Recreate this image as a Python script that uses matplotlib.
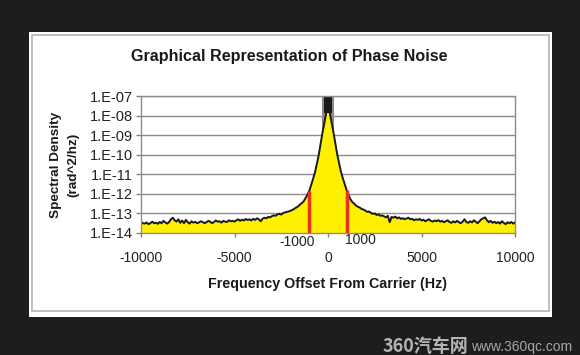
import numpy as np
import matplotlib
matplotlib.use("Agg")
import matplotlib.pyplot as plt
from matplotlib.patches import Rectangle

plt.rcParams['font.family'] = ['Liberation Sans', 'Noto Sans CJK SC', 'DejaVu Sans']

# frequency offset grid (Hz), 100 Hz steps
freq = np.arange(-10000, 10001, 100)

# log10 of spectral density
left_exp = [
    -13.45, -13.50, -13.52, -13.46, -13.55, -13.50, -13.42, -13.50, -13.47, -13.53,
    -13.44, -13.50, -13.38, -13.46, -13.52, -13.44, -13.30, -13.22, -13.35, -13.42,
    -13.30, -13.48, -13.36, -13.50, -13.33, -13.45, -13.52, -13.40, -13.47, -13.43,
    -13.50, -13.46, -13.40, -13.44, -13.50, -13.45, -13.38, -13.42, -13.50, -13.44,
    -13.36, -13.42, -13.40, -13.47, -13.38, -13.42, -13.44, -13.35, -13.40, -13.38,
    -13.42, -13.35, -13.30, -13.38, -13.32, -13.36, -13.28, -13.34, -13.30, -13.36,
    -13.28, -13.33, -13.25, -13.30, -13.40, -13.27, -13.22, -13.25, -13.18, -13.20,
    -13.14, -13.10, -13.12, -13.05, -13.02, -13.06, -12.98, -12.95, -12.92, -12.90,
    -12.86, -12.82, -12.76, -12.70, -12.64, -12.55, -12.47, -12.38, -12.22, -12.05,
    -11.85, -11.55, -11.24, -10.92, -10.48, -10.04, -9.47, -8.90, -8.40, -7.90,
]
center_exp = [-6.0]
right_exp = [
    -7.90, -8.40, -8.90, -9.45, -10.02, -10.46, -10.90, -11.22, -11.52, -11.82,
    -12.05, -12.28, -12.42, -12.50, -12.60, -12.66, -12.70, -12.78, -12.80, -12.86,
    -12.92, -12.90, -12.98, -13.02, -13.00, -13.08, -13.05, -13.12, -13.10, -13.15,
    -13.20, -13.12, -13.45, -13.18, -13.22, -13.16, -13.25, -13.20, -13.28, -13.24,
    -13.30, -13.26, -13.22, -13.30, -13.27, -13.35, -13.30, -13.33, -13.28, -13.36,
    -13.32, -13.40, -13.35, -13.30, -13.38, -13.42, -13.36, -13.40, -13.34, -13.42,
    -13.38, -13.45, -13.40, -13.35, -13.44, -13.48, -13.40, -13.46, -13.38, -13.45,
    -13.50, -13.42, -13.30, -13.44, -13.48, -13.40, -13.46, -13.35, -13.42, -13.50,
    -13.40, -13.30, -13.25, -13.20, -13.35, -13.45, -13.38, -13.48, -13.42, -13.50,
    -13.44, -13.52, -13.40, -13.48, -13.55, -13.45, -13.50, -13.44, -13.52, -13.46,
]
psd = 10.0 ** np.array(left_exp + center_exp + right_exp)

# carrier spike: dark core plus grey halo
carrier_half_width = 230
carrier_bottom = 1.3e-8
halo_half_width = 340
halo_bottom = 1.2e-9

marker_freqs = [-1000, 1000]
y_ticks = [1e-14, 1e-13, 1e-12, 1e-11, 1e-10, 1e-9, 1e-8, 1e-7]
y_labels = ['1.E-14', '1.E-13', '1.E-12', '1.E-11', '1.E-10', '1.E-09', '1.E-08', '1.E-07']
x_ticks = [-10000, -5000, 0, 5000, 10000]
x_labels = ['-10000', '-5000', '0', '5000', '10000']

W, H = 580, 355
fig = plt.figure(figsize=(W / 100, H / 100), dpi=100, facecolor='#1e1c1e')

# white chart panel with grey inner border
fig.patches.append(Rectangle((29 / W, 1 - 317 / H), 523 / W, 285 / H,
                             transform=fig.transFigure, facecolor='white',
                             edgecolor='none', zorder=-3))
fig.patches.append(Rectangle((31.5 / W, 1 - 311 / H), 517.5 / W, 276 / H,
                             transform=fig.transFigure, facecolor='none',
                             edgecolor='#b4b4b4', lw=1.2, zorder=-2))

ax = fig.add_axes([141 / W, 1 - 233 / H, 374 / W, 137 / H])
ax.set_facecolor('white')
ax.set_yscale('log')
ax.set_xlim(-10000, 10000)
ax.set_ylim(1e-14, 1e-7)

ax.set_axisbelow(True)
ax.yaxis.grid(True, color='#8c8c8c', lw=1)
ax.fill_between([-halo_half_width, halo_half_width], halo_bottom, 1e-6,
                color='#8a8a8a', lw=0, zorder=0.9)
ax.fill_between(freq, 1e-14, psd, color='#fff000', lw=0, zorder=1)
ax.plot(freq, psd, color='#1a1a1a', lw=1.4, zorder=2)
ax.fill_between([-carrier_half_width, carrier_half_width], carrier_bottom, 1e-6,
                color='#1a1a1a', lw=0, zorder=2)

marker_vals = [psd[list(freq).index(f)] for f in marker_freqs]
ax.vlines(marker_freqs, 1e-14, marker_vals, color='#e8321e', lw=2.5, zorder=3)

ax.set_yticks(y_ticks)
ax.set_yticklabels(y_labels)
ax.yaxis.set_minor_locator(matplotlib.ticker.NullLocator())
ax.set_xticks(x_ticks)
ax.set_xticklabels(x_labels)
ax.tick_params(axis='y', length=3.6, width=1, color='#808080', pad=2, labelsize=10.5,
               labelcolor='#222222')
ax.tick_params(axis='x', length=3, width=1, color='#808080', pad=10, labelsize=10,
               labelcolor='#222222')
for s in ax.spines.values():
    s.set_color('#8c8c8c')
    s.set_linewidth(1)

# raised labels for the +-1000 markers
ax.text(-710, -0.066, '-1000', transform=ax.get_xaxis_transform(),
        ha='right', va='center', fontsize=10, color='#222222')
ax.text(890, -0.053, '1000', transform=ax.get_xaxis_transform(),
        ha='left', va='center', fontsize=10, color='#222222')

fig.text(0.499, 1 - 57 / H, 'Graphical Representation of Phase Noise',
         ha='center', va='center', fontsize=11.6, fontweight='bold', color='#1a1a1a')
fig.text(328 / W, 1 - 284 / H, 'Frequency Offset From Carrier (Hz)',
         ha='center', va='center', fontsize=10.3, fontweight='bold', color='#1a1a1a')
fig.text(56.5 / W, 1 - 164.5 / H, 'Spectral Density', rotation=90,
         ha='center', va='center', fontsize=9.7, fontweight='bold', color='#1a1a1a')
fig.text(73.5 / W, 1 - 164.5 / H, '(rad^2/hz)', rotation=90,
         ha='center', va='center', fontsize=9.7, fontweight='bold', color='#1a1a1a')

# watermark
fig.text(383 / W, 1 - 347 / H, '360汽车网', ha='left', va='center',
         fontsize=13, fontweight='bold', color='#b4b4b4',
         family=['Noto Sans CJK SC', 'DejaVu Sans'])
fig.text(572 / W, 1 - 347 / H, 'www.360qc.com', ha='right', va='center',
         fontsize=10, color='#a6a6a6')

fig.savefig('out.png', dpi=100, facecolor=fig.get_facecolor())
